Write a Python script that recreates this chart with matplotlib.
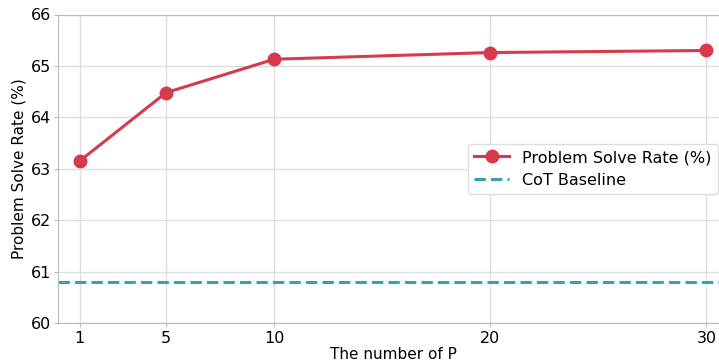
import matplotlib.pyplot as plt

num_p = [1, 5, 10, 20, 30]
solve_rate = [63.15, 64.48, 65.13, 65.26, 65.30]
cot_baseline = 60.8

fig = plt.figure(figsize=(7.19, 3.61), dpi=100)
# axes run slightly past the right edge (reference is cropped there)
ax = fig.add_axes([58 / 719, 1 - 323 / 361, 670 / 719, (323 - 14.5) / 361])

ax.plot(num_p, solve_rate, color='#d63a4c', linewidth=2.2, marker='o', markersize=9,
        label='Problem Solve Rate (%)', zorder=3)
ax.axhline(cot_baseline, color='#3a9eb4', linewidth=2.2, linestyle=(0, (3.7, 1.7)),
           label='CoT Baseline', zorder=2)

ax.set_xlim(0, 31)
ax.set_ylim(60, 66)
ax.set_xticks(num_p)
ax.set_yticks(range(60, 67))
ax.grid(True, color='#dddddd', linewidth=1.0)
ax.set_axisbelow(True)
for s in ax.spines.values():
    s.set_color('#bbbbbb')
ax.tick_params(axis='both', labelsize=11.5, length=3, color='#bbbbbb')
ax.tick_params(axis='y', pad=2)
ax.tick_params(axis='x', pad=3)

ax.set_xlabel('The number of P', fontsize=11, labelpad=0.8)
ax.set_ylabel('Problem Solve Rate (%)', fontsize=11, labelpad=3)

leg = ax.legend(loc='center right', bbox_to_anchor=(718 / 719, 1 - 169 / 361),
                bbox_transform=fig.transFigure, borderaxespad=0, fontsize=11.5,
                frameon=True, edgecolor='#dddddd', fancybox=True, framealpha=1.0,
                handlelength=2.2)

fig.savefig('out.png', dpi=100)
